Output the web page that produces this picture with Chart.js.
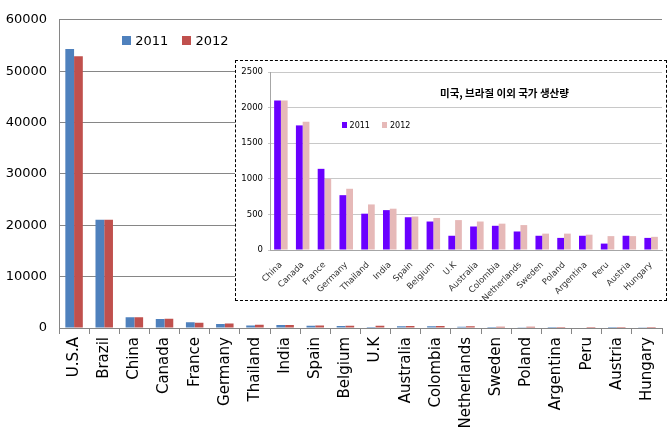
<!DOCTYPE html>
<html>
<head>
<meta charset="utf-8">
<script src="https://cdn.jsdelivr.net/npm/chart.js@4.4.1/dist/chart.umd.min.js"></script>
<style>
  body { margin: 0; background: #fff; }
  #wrap { position: relative; width: 670px; height: 437px; }
  #mainChart { position: absolute; left: 0; top: 0; }
  .leg { position: absolute; font-family: "DejaVu Sans", sans-serif; color: #000; white-space: nowrap; }
  .sq { display: inline-block; }
  #inset { position: absolute; left: 235px; top: 60px; width: 430px; height: 239px;
           border: 1px dashed #000; background: #fff; }
  #insetChart { position: absolute; left: 0; top: 0; }
  #insetTitle { position: absolute; left: 204px; top: 24px; font-family: "Noto Sans CJK KR", sans-serif;
                font-weight: bold; font-size: 10.5px; color: #000; white-space: nowrap; }
</style>
</head>
<body>
<div id="wrap">
  <canvas id="mainChart" width="670" height="437"></canvas>
  <div class="leg" style="left:122px; top:33px; font-size:13px;">
    <span class="sq" style="width:9px;height:9px;background:#4F81BD;"></span> 2011
    <span class="sq" style="width:9px;height:9px;background:#C0504D;margin-left:10px;"></span> 2012
  </div>
  <div id="inset">
    <canvas id="insetChart" width="430" height="239"></canvas>
    <div id="insetTitle">미국, 브라질 이외 국가 생산량</div>
    <div class="leg" style="left:106px; top:60px; font-size:8px;">
      <span class="sq" style="width:5px;height:6px;background:#6A00FF;"></span> 2011
      <span class="sq" style="width:5px;height:6px;background:#E6B9B8;margin-left:10px;"></span> 2012
    </div>
  </div>
</div>
<script>
// all countries (main chart)
const countries = ['U.S.A', 'Brazil', 'China', 'Canada', 'France', 'Germany', 'Thailand', 'India', 'Spain',
  'Belgium', 'U.K', 'Australia', 'Colombia', 'Netherlands', 'Sweden', 'Poland', 'Argentina', 'Peru', 'Austria', 'Hungary'];
const prod2011 = [54300, 21050, 2100, 1750, 1140, 770, 510, 560, 460, 400, 200, 330, 340, 260, 200, 170, 200, 90, 200, 170];
const prod2012 = [52900, 21050, 2100, 1800, 1000, 860, 640, 580, 470, 450, 420, 400, 370, 350, 230, 230, 215, 195, 195, 185];

// inset: everything except USA and Brazil
const insetCountries = countries.slice(2);
const inset2011 = prod2011.slice(2);
const inset2012 = prod2012.slice(2);

const mainTicks = [0, 10000, 20000, 30000, 40000, 50000, 60000];
const insetTicks = [0, 500, 1000, 1500, 2000, 2500];

// main chart
new Chart(document.getElementById('mainChart').getContext('2d'), {
  type: 'bar',
  data: {
    labels: countries,
    datasets: [
      { label: '2011', data: prod2011, backgroundColor: '#4F81BD', barPercentage: 1, categoryPercentage: 0.58 },
      { label: '2012', data: prod2012, backgroundColor: '#C0504D', barPercentage: 1, categoryPercentage: 0.58 }
    ]
  },
  options: {
    responsive: false,
    animation: false,
    layout: { padding: { top: 10, right: 8, left: 0, bottom: 0 } },
    plugins: { legend: { display: false }, tooltip: { enabled: false } },
    scales: {
      x: {
        afterFit: s => { s.height = 109; },
        grid: { offset: true, drawOnChartArea: false, color: '#868686', tickLength: 6 },
        border: { color: '#868686' },
        ticks: { autoSkip: false, minRotation: 90, maxRotation: 90, color: '#000', padding: 3,
                 font: { family: 'DejaVu Sans', size: 15 } }
      },
      y: {
        min: 0, max: 60000,
        afterFit: s => { s.width = 59; },
        afterBuildTicks: s => { s.ticks = mainTicks.map(v => ({ value: v })); },
        grid: { color: '#868686', tickLength: 0 },
        border: { color: '#868686' },
        ticks: { color: '#000', padding: 12, font: { family: 'DejaVu Sans', size: 13 },
                 callback: v => String(v) }
      }
    }
  }
});

// inset chart
new Chart(document.getElementById('insetChart').getContext('2d'), {
  type: 'bar',
  data: {
    labels: insetCountries,
    datasets: [
      { label: '2011', data: inset2011, backgroundColor: '#6A00FF', barPercentage: 1, categoryPercentage: 0.62 },
      { label: '2012', data: inset2012, backgroundColor: '#E6B9B8', barPercentage: 1, categoryPercentage: 0.62 }
    ]
  },
  options: {
    responsive: false,
    animation: false,
    layout: { padding: { top: 11, right: 4, left: 0, bottom: 0 } },
    plugins: { legend: { display: false }, tooltip: { enabled: false } },
    scales: {
      x: {
        afterFit: s => { s.height = 50; },
        grid: { display: false },
        border: { color: '#A6A6A6' },
        ticks: { autoSkip: false, minRotation: 45, maxRotation: 45, color: '#333', padding: 2,
                 font: { family: 'DejaVu Sans', size: 8.5 } }
      },
      y: {
        min: 0, max: 2500,
        afterFit: s => { s.width = 34; },
        afterBuildTicks: s => { s.ticks = insetTicks.map(v => ({ value: v })); },
        grid: { color: '#C8C8C8', tickLength: 2 },
        border: { color: '#A6A6A6' },
        ticks: { color: '#000', padding: 5, font: { family: 'DejaVu Sans', size: 8.5 },
                 callback: v => String(v) }
      }
    }
  }
});
</script>
</body>
</html>
